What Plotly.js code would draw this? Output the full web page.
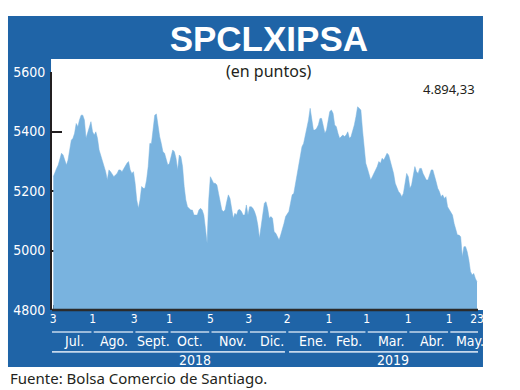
<!DOCTYPE html>
<html>
<head>
<meta charset="utf-8">
<script src="https://cdn.plot.ly/plotly-3.0.1.min.js"></script>
<style>
  html, body { margin: 0; padding: 0; background: #ffffff; }
  #chart { width: 520px; height: 390px; }
</style>
</head>
<body>
<div id="chart"></div>
<script>
// ---- Data (SPCLXIPSA, daily, 3 Jul 2018 – 23 May 2019) ----
const values = [
  5248,5265,5276,5287,5310,5327,5321,5299,5287,5304,
  5338,5371,5377,5394,5427,5416,5439,5455,5455,5439,
  5377,5399,5411,5433,5399,5388,5399,5377,5338,5321,
  5304,5282,5265,5237,5271,5265,5254,5248,5254,5259,
  5271,5271,5265,5276,5287,5293,5299,5271,5259,5265,
  5226,5170,5142,5170,5215,5209,5209,5237,5282,
  5360,5360,5416,5455,5459,5416,5383,5360,5332,5327,
  5310,5287,5293,5315,5338,5332,5310,5271,5321,5315,
  5282,5215,5170,5147,5142,5136,5136,5119,5119,5119,
  5136,5142,5136,5119,5074,5024,5170,
  5248,5237,5226,5226,5220,5192,5159,5136,5131,5136,
  5164,5187,5175,5147,5108,5125,5119,5136,5138,5131,
  5119,5119,5153,5119,5147,5147,5142,5131,5114,5086,
  5041,5080,5125,5159,5164,5142,5108,5114,5108,
  5063,5058,5046,5035,5052,5069,5091,5114,5125,5131,
  5159,5187,5192,5226,5259,5293,5327,5349,5360,5383,
  5416,5439,5478,5439,5405,5405,5411,5422,5444,5444,
  5422,5394,5405,5439,5467,5472,5461,5422,5416,5394,
  5377,5383,5388,5383,5388,5399,5377,5383,5399,5422,
  5450,5483,5478,5472,5405,5349,5293,5276,5254,5237,
  5248,5259,5271,5282,5299,5293,5310,5304,5315,5327,
  5321,5299,5276,5259,5226,5209,5198,5192,5181,5192,
  5231,5259,5248,5209,5220,5254,5282,5265,5259,5276,
  5276,5259,5248,5237,5237,5254,5271,5271,5254,5231,
  5209,5198,5181,5187,5175,5181,5147,5136,5125,5119,
  5091,5069,5052,5052,5046,4979,5013,5013,4996,4968,
  4929,4918,4923,4906,4894.33
];
const dayLabels   = ["3","1","3","1","5","3","2","1","1","1","1","23"];
const monthNames  = ["Jul.","Ago.","Sept.","Oct.","Nov.","Dic.","Ene.","Feb.","Mar.","Abr.","May."];
const yearNames   = ["2018","2019"];
const yTicks      = [4800,5000,5200,5400,5600];
const titleText   = "SPCLXIPSA";
const unitText    = "(en puntos)";
const lastText    = "4.894,33";
const sourceText  = "Fuente: Bolsa Comercio de Santiago.";

// ---- Layout configuration (axis positions in trading-sample units) ----
const xIdx = values.map((v, i) => i);
const tickPos = [0, 24, 49.5, 71, 96, 119.5, 143, 168.5, 191.5, 217, 242, 259];
const monthLabelPos = [12.6, 37.1, 61, 83.6, 110, 133.7, 158.7, 180.7, 206.4, 232, 254.7];
const yearLabelPos = [86.6, 207.8];
const yearSpans = [[-0.8, 141.6], [144.1, 261]];
const xRange = [-0.8, 259.6];

const DARK = "#1f64a7";
const LIGHT = "#79b3df";
const LINE_LIGHT = "#c6d8ec";
const COND = "Liberation Sans Narrow, DejaVu Sans Condensed, Arial Narrow, sans-serif";
const TXT = "#231f20";

const trace = {
  type: "scatter",
  mode: "lines",
  x: xIdx,
  y: values,
  fill: "tozeroy",
  fillcolor: LIGHT,
  line: { color: LIGHT, width: 0.5 },
  hoverinfo: "skip"
};

// paper conversions: plot area is 52..478 px (x), 72..310 px (y)
const shapes = [
  { type: "rect", xref: "paper", yref: "paper", x0: -0.1033, x1: 1.0117, y0: 1.0546, y1: 1.2353,
    fillcolor: DARK, line: { width: 0 }, layer: "below" },
  { type: "rect", xref: "paper", yref: "paper", x0: -0.1033, x1: -0.0023, y0: -0.2395, y1: 1.0546,
    fillcolor: DARK, line: { width: 0 }, layer: "below" },
  { type: "rect", xref: "paper", yref: "paper", x0: -0.1033, x1: 1.0117, y0: -0.2395, y1: 0,
    fillcolor: DARK, line: { width: 0 }, layer: "below" },
  { type: "line", xref: "paper", yref: "paper", x0: 0, x1: 1, y0: 0, y1: 0,
    line: { color: "#2b2b2b", width: 2.5 }, layer: "above" }
];

for (let i = 0; i < monthNames.length; i++) {
  const a = i === 0 ? xRange[0] : tickPos[i] + 0.7;
  const b = i === monthNames.length - 1 ? xRange[1] : tickPos[i + 1] - 0.7;
  shapes.push({ type: "line", xref: "x", yref: "paper", x0: a, x1: b, y0: -0.0924, y1: -0.0924,
    line: { color: LINE_LIGHT, width: 1.6 }, layer: "above" });
}
yearSpans.forEach(s => {
  shapes.push({ type: "line", xref: "x", yref: "paper", x0: s[0], x1: s[1], y0: -0.176, y1: -0.176,
    line: { color: LINE_LIGHT, width: 1.6 }, layer: "above" });
});

const annotations = [];
monthNames.forEach((m, i) => {
  annotations.push({ text: m, xref: "x", yref: "paper", x: monthLabelPos[i], y: -0.13,
    xanchor: "center", yanchor: "middle", showarrow: false,
    font: { family: COND, size: 14, color: "#ffffff" } });
});
yearNames.forEach((yv, i) => {
  annotations.push({ text: yv, xref: "x", yref: "paper", x: yearLabelPos[i], y: -0.212,
    xanchor: "center", yanchor: "middle", showarrow: false,
    font: { family: COND, size: 14, color: "#ffffff" } });
});
annotations.push({ text: unitText, xref: "paper", yref: "paper", x: 0.509, y: 1.004,
  xanchor: "center", yanchor: "middle", showarrow: false,
  font: { family: "Noto Sans, sans-serif", size: 16, color: TXT } });
annotations.push({ text: lastText, xref: "paper", yref: "paper", x: 0.998, y: 0.9286,
  xanchor: "right", yanchor: "middle", showarrow: false,
  font: { family: "Noto Sans, sans-serif", size: 13, color: TXT } });
annotations.push({ text: sourceText, xref: "paper", yref: "paper", x: -0.1033, y: -0.2857,
  xanchor: "left", yanchor: "middle", showarrow: false,
  font: { family: "Noto Sans, sans-serif", size: 15, color: TXT } });

const layout = {
  width: 520,
  height: 390,
  margin: { l: 52, r: 42, t: 72, b: 80, pad: 0 },
  paper_bgcolor: "#ffffff",
  plot_bgcolor: "#ffffff",
  showlegend: false,
  title: {
    text: titleText,
    font: { family: "Liberation Sans, Arial, sans-serif", size: 35, color: "#ffffff", weight: 700 },
    xref: "container", yref: "container",
    x: 0.517, xanchor: "center", y: 0.9, yanchor: "middle"
  },
  xaxis: {
    range: xRange,
    tickmode: "array",
    tickvals: tickPos,
    ticktext: dayLabels,
    tickfont: { family: COND, size: 12, color: "#ffffff" },
    ticks: "inside", ticklen: 5, tickwidth: 1.5, tickcolor: "#2b2b2b",
    showgrid: false, zeroline: false, showline: false,
    layer: "below traces", fixedrange: true
  },
  yaxis: {
    range: [4800, 5600],
    tickmode: "array",
    tickvals: yTicks,
    ticktext: yTicks.map(String),
    tickfont: { family: COND, size: 14, color: "#ffffff" },
    ticks: "inside", ticklen: 10, tickwidth: 2, tickcolor: TXT,
    showline: true, linecolor: TXT, linewidth: 2,
    showgrid: false, zeroline: false,
    ticklabelstandoff: 2,
    layer: "below traces", fixedrange: true
  },
  shapes: shapes,
  annotations: annotations
};

Plotly.newPlot("chart", [trace], layout, { staticPlot: true, displayModeBar: false });
</script>
</body>
</html>
